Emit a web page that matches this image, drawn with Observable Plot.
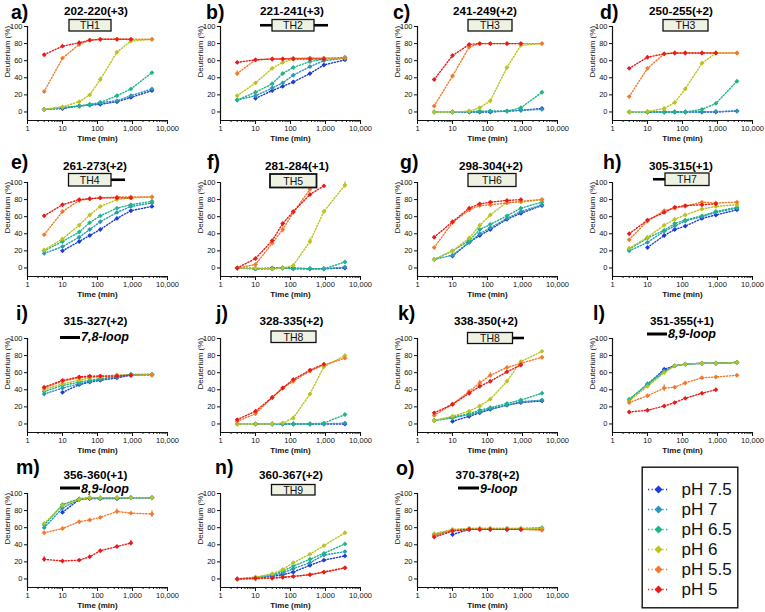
<!DOCTYPE html>
<html><head><meta charset="utf-8">
<script src="https://cdn.jsdelivr.net/npm/d3@7"></script>
<script src="https://cdn.jsdelivr.net/npm/@observablehq/plot@0.6"></script>
<style>
html,body{margin:0;padding:0;background:#fff;}
#root{position:relative;width:765px;height:612px;overflow:hidden;font-family:"Liberation Sans",Arial,sans-serif;}
#root > .p{position:absolute;}
</style></head><body><div id="root"></div>
<script>
// ---------- DATA ----------
const times = [3, 10, 30, 60, 120, 360, 900, 3600];
const seriesNames = ["pH 7.5", "pH 7", "pH 6.5", "pH 6", "pH 5.5", "pH 5"];
const seriesColors = ["#1f3bd6", "#2a98b6", "#1fb58a", "#bcc21e", "#f27a2e", "#e81b1b"];
const panelLetters = ["a)","b)","c)","d)","e)","f)","g)","h)","i)","j)","k)","l)","m)","n)","o)"];
const panelTitles = ["202-220(+3)","221-241(+3)","241-249(+2)","250-255(+2)","261-273(+2)","281-284(+1)","298-304(+2)","305-315(+1)","315-327(+2)","328-335(+2)","338-350(+2)","351-355(+1)","356-360(+1)","360-367(+2)","370-378(+2)"];
const xMajor = [1, 10, 100, 1000, 10000];
const xMinor = [2,3,4,5,6,7,8,9,20,30,40,50,60,70,80,90,200,300,400,500,600,700,800,900,2000,3000,4000,5000,6000,7000,8000,9000];
const yTicks = [0, 20, 40, 60, 80, 100];

// rows: pH 7.5, pH 7, pH 6.5, pH 6, pH 5.5, pH 5 ; columns follow `times`
const pA = [[3,4,7,8,9,12,17,25],[3,5,7,8,11,13,19,27],[3,5,7,9,11,19,27,46],[3,6,12,20,38,70,83,85],[24,63,79,84,85,85,85,85],[67,77,81,84,85,85,85,null]];
const pB = [[null,16,25,30,35,45,55,61],[14,19,28,34,43,53,60,63],[14,23,33,45,52,59,62,64],[19,34,51,58,62,63,63,63],[45,61,62,62,63,63,63,63],[58,61,62,62,62,62,62,null]];
const pC = [[null,0,0,0,0,1,2,4],[0,0,0,0,1,1,2,3],[0,0,0.5,1,1,1,5,23],[0,0,1,5,13,52,78,80],[7,42,76,80,80,80,80,80],[38,66,79,80,80,80,80,null]];
const pD = [[null,0,0,0,0,0,0,1],[0,0,0,0,0,0,0.5,1],[0,0,0,0,0,3,10,36],[0,0.5,4,11,27,57,69,69],[18,51,68,69,69,69,69,69],[51,64,68,69,69,69,69,null]];
const pE = [[null,20,31,38,45,58,67,72],[17,25,36,45,54,65,72,76],[20,31,42,53,61,70,74,78],[21,34,50,62,72,80,82,83],[39,66,79,81,82,83,83,83],[61,74,80,81,82,82,82,null]];
const pF = [[null,-1,0,0,0,-1,-1,0],[0,-1,-1,0,-1,-1,-1,1],[0,-1,-1,0,-1,-1,-1,7],[0,0,-1,0,3,31,66,97],[0,4,29,45,65,92,null,null],[0,11,32,52,66,86,96,null]];
const pG = [[null,14,30,38,45,57,64,73],[10,15,30,40,47,58,66,74],[10,20,32,45,51,61,70,77],[10,20,35,50,62,77,77,80],[24,53,68,73,74,76,78,80],[36,54,70,75,77,79,80,null]];
const pH = [[null,24,38,45,49,58,62,68],[20,30,43,49,55,60,65,70],[22,35,44,52,56,61,66,71],[23,36,50,57,62,69,72,74],[33,55,67,70,72,77,76,77],[40,56,65,71,73,74,75,null]];
const pI = [[null,37,46,49,51,54,57,58],[35,42,47,50,52,55,58,58],[38,45,49,51,53,56,58,58],[40,47,51,54,55,57,57,58],[42,50,54,55,56,57,57,57],[43,51,55,56,56,56,57,null]];
const pJ = [[null,0,0,0,0,0,0,0],[0,0,0,0,0,0,0,1],[0,0,0,0,0,0,1,11],[0,0,0,1,7,35,67,80],[3,12,31,42,50,62,69,77],[5,15,31,42,52,63,70,null]];
const pK = [[null,3,9,13,17,22,25,27],[4,7,11,14,18,22,26,28],[4,8,12,16,19,24,28,36],[4,9,15,21,29,50,73,85],[10,23,38,48,57,66,71,78],[13,23,36,44,50,61,69,null]];
const pL = [[null,46,64,68,70,71,71,72],[28,47,62,68,70,71,71,72],[29,46,61,68,70,71,71,72],[27,44,60,68,70,71,71,72],[25,33,42,43,48,54,55,57],[14,16,21,25,30,36,40,null]];
const pM = [[null,78,93,94,94,94,95,95],[60,83,93,95,94,95,95,95],[63,87,94,95,95,95,95,95],[65,86,93,95,95,95,95,95],[54,59,67,69,72,79,77,76],[23,21,22,26,33,38,42,null]];
const pN = [[null,1,3,5,8,16,22,27],[0,1,4,7,12,19,28,32],[0,2,5,9,15,23,30,41],[0,2,6,11,19,29,39,54],[0,0,1,2,3,5,8,13],[0,1,1,2,3,5,8,13]];
const pO = [[null,52,58,58,58,58,58,58],[51,57,58,58,58,58,58,59],[52,57,59,59,59,59,59,60],[53,58,59,59,59,59,59,59],[51,57,58,58,58,58,58,57],[49,56,58,58,58,58,58,null]];
const panelData = [pA,pB,pC,pD,pE,pF,pG,pH,pI,pJ,pK,pL,pM,pN,pO];
// error bars: [panel, series, time index, +/-]
const errorBars = [[0,3,4,3],[1,4,0,3],[5,3,5,4],[5,3,7,4],[5,4,3,4],[9,3,7,2],[10,4,3,3],[10,4,4,3],[11,4,2,4],[12,5,0,3],[12,5,6,3],[12,4,5,3],[12,4,7,4]];

// ---------- LAYOUT ----------
const FONT = '"Liberation Sans", Arial, sans-serif';
const colAxisX = [27, 220, 417, 612];
const rowTop = [0, 156, 312, 467];
const letterPos = [[11,18.5],[206,18.5],[393,18.5],[600,18.5],[11,169],[207,169],[400,169],[603,169],[16,320],[216,320],[398,320],[593,320],[16,474],[215,474],[396,475]];
const titlePos = [[96,15],[292,15],[485,15],[681,15],[95,170],[297,170],[491,170],[681,170],[95.5,325],[291.5,325],[486,325],[682,325],[95.5,479],[291,479],[487.5,479]];
const annotations = [
 {type:"box", label:"TH1", x0:69, x1:111, y0:19.5, y1:31},
 {type:"box", label:"TH2", x0:272, x1:314, y0:19.5, y1:31, lineL:260, lineR:328},
 {type:"box", label:"TH3", x0:468, x1:512, y0:19.5, y1:31},
 {type:"box", label:"TH3", x0:663, x1:708, y0:19.5, y1:31},
 {type:"box", label:"TH4", x0:68.5, x1:111, y0:173.5, y1:186, lineR:125},
 {type:"box", label:"TH5", x0:270, x1:316.5, y0:174, y1:187.5, thick:true},
 {type:"box", label:"TH6", x0:468, x1:516, y0:173.5, y1:186.5},
 {type:"box", label:"TH7", x0:665, x1:709, y0:173, y1:185.5, lineL:653},
 {type:"loop", label:"7,8-loop", x0:60, x1:80, y:337.5, ty:341},
 {type:"box", label:"TH8", x0:271, x1:316, y0:331, y1:342.5},
 {type:"box", label:"TH8", x0:467.5, x1:512.5, y0:332.5, y1:343.5, lineR:524},
 {type:"loop", label:"8,9-loop", x0:647, x1:667, y:334, ty:338},
 {type:"loop", label:"8,9-loop", x0:60, x1:80, y:488, ty:492.5},
 {type:"box", label:"TH9", x0:271.5, x1:315, y0:484.5, y1:495},
 {type:"loop", label:"9-loop", x0:458, x1:479, y:488, ty:492.5}
];

const root = document.getElementById("root");

function panelPlot(pi) {
  const values = panelData[pi];
  const rows = [];
  values.forEach((arr, si) => arr.forEach((v, ti) => {
    if (v != null) rows.push({series: seriesNames[si], t: times[ti], v});
  }));
  const errs = errorBars.filter(e => e[0] === pi).map(([p, si, ti, e]) => ({
    series: seriesNames[si], t: times[ti], lo: values[si][ti] - e, hi: values[si][ti] + e
  }));
  return Plot.plot({
    width: 190, height: 150,
    marginLeft: 27, marginRight: 23, marginTop: 26, marginBottom: 30,
    style: {fontFamily: FONT, fontSize: "7.5px", color: "#111", background: "transparent", overflow: "visible"},
    x: {type: "log", domain: [1, 10000]},
    y: {domain: [-10, 100]},
    color: {domain: seriesNames, range: seriesColors},
    marks: [
      Plot.axisY({ticks: yTicks, tickSize: 3, tickPadding: 2, label: null}),
      Plot.axisX({ticks: xMajor, tickSize: 4, tickPadding: 1.5, tickFormat: d3.format(","), label: null}),
      Plot.axisX({ticks: xMinor, tickSize: 2, tickFormat: () => "", label: null}),
      Plot.ruleX([1], {stroke: "#111", strokeWidth: 1.2}),
      Plot.ruleY([-10], {stroke: "#111", strokeWidth: 1.2}),
      Plot.text(["Deuterium (%)"], {frameAnchor: "left", rotate: -90, dx: -20, dy: 4, fontSize: 8}),
      Plot.text(["Time (min)"], {frameAnchor: "bottom", dy: 20, fontWeight: "bold", fontSize: 8}),
      Plot.ruleX(errs, {x: "t", y1: "lo", y2: "hi", stroke: "series", strokeWidth: 1}),
      Plot.line(rows, {x: "t", y: "v", z: "series", stroke: "series", strokeWidth: 1.4, strokeDasharray: "1.2,1.8"}),
      Plot.dot(rows, {x: "t", y: "v", fill: "series", symbol: "diamond2", r: 2.2})
    ]
  });
}

panelData.forEach((_, pi) => {
  const row = Math.floor(pi / 4), col = pi % 4;
  const el = panelPlot(pi);
  el.classList.add("p");
  el.style.left = (colAxisX[col] - 27) + "px";
  el.style.top = rowTop[row] + "px";
  root.appendChild(el);
});

// legend
const legend = Plot.plot({
  width: 97, height: 142, margin: 0,
  style: {fontFamily: FONT, background: "transparent", overflow: "visible"},
  x: {domain: [0, 97], range: [0, 97], axis: null},
  y: {type: "point", domain: seriesNames, range: [13, 133], axis: null},
  color: {domain: seriesNames, range: seriesColors},
  marks: [
    Plot.frame({stroke: "#111", strokeWidth: 1.4, inset: 0.7}),
    Plot.ruleY(seriesNames, {y: d => d, x1: 7, x2: 27, stroke: d => d, strokeWidth: 1.6, strokeDasharray: "1.2,2.4"}),
    Plot.dot(seriesNames, {x: 17, y: d => d, fill: d => d, symbol: "diamond2", r: 3.6}),
    Plot.text(seriesNames, {x: 40, y: d => d, text: d => d, textAnchor: "start", fontSize: 17, fill: "#111"})
  ]
});
legend.classList.add("p");
legend.style.left = "641px";
legend.style.top = "466px";
root.appendChild(legend);

// annotation overlay
const ov = d3.create("svg").attr("width", 765).attr("height", 612)
  .style("position", "absolute").style("left", 0).style("top", 0)
  .style("font-family", FONT);
panelLetters.forEach((l, i) => {
  ov.append("text").attr("x", letterPos[i][0]).attr("y", letterPos[i][1])
    .attr("font-size", 19.5).attr("font-weight", "bold").attr("fill", "#000").text(l);
  ov.append("text").attr("x", titlePos[i][0]).attr("y", titlePos[i][1])
    .attr("font-size", 11.7).attr("font-weight", "bold").attr("text-anchor", "middle").attr("fill", "#000").text(panelTitles[i]);
});
annotations.forEach(a => {
  if (a.type === "box") {
    const ym = (a.y0 + a.y1) / 2;
    if (a.lineL != null) ov.append("line").attr("x1", a.lineL).attr("x2", a.x0).attr("y1", ym).attr("y2", ym).attr("stroke", "#000").attr("stroke-width", 2.6);
    if (a.lineR != null) ov.append("line").attr("x1", a.x1).attr("x2", a.lineR).attr("y1", ym).attr("y2", ym).attr("stroke", "#000").attr("stroke-width", 2.6);
    ov.append("rect").attr("x", a.x0).attr("y", a.y0).attr("width", a.x1 - a.x0).attr("height", a.y1 - a.y0)
      .attr("fill", "#eef2e3").attr("stroke", "#111").attr("stroke-width", a.thick ? 1.8 : 1.3);
    ov.append("text").attr("x", (a.x0 + a.x1) / 2).attr("y", ym + 3.8).attr("text-anchor", "middle")
      .attr("font-size", 10.5).attr("fill", "#111").text(a.label);
  } else {
    ov.append("line").attr("x1", a.x0).attr("x2", a.x1).attr("y1", a.y).attr("y2", a.y).attr("stroke", "#000").attr("stroke-width", 3);
    ov.append("text").attr("x", a.x1 + 1).attr("y", a.ty).attr("font-size", 12.5).attr("font-weight", "bold")
      .attr("font-style", "italic").attr("fill", "#000").text(a.label);
  }
});
root.appendChild(ov.node());
</script>
</body></html>
